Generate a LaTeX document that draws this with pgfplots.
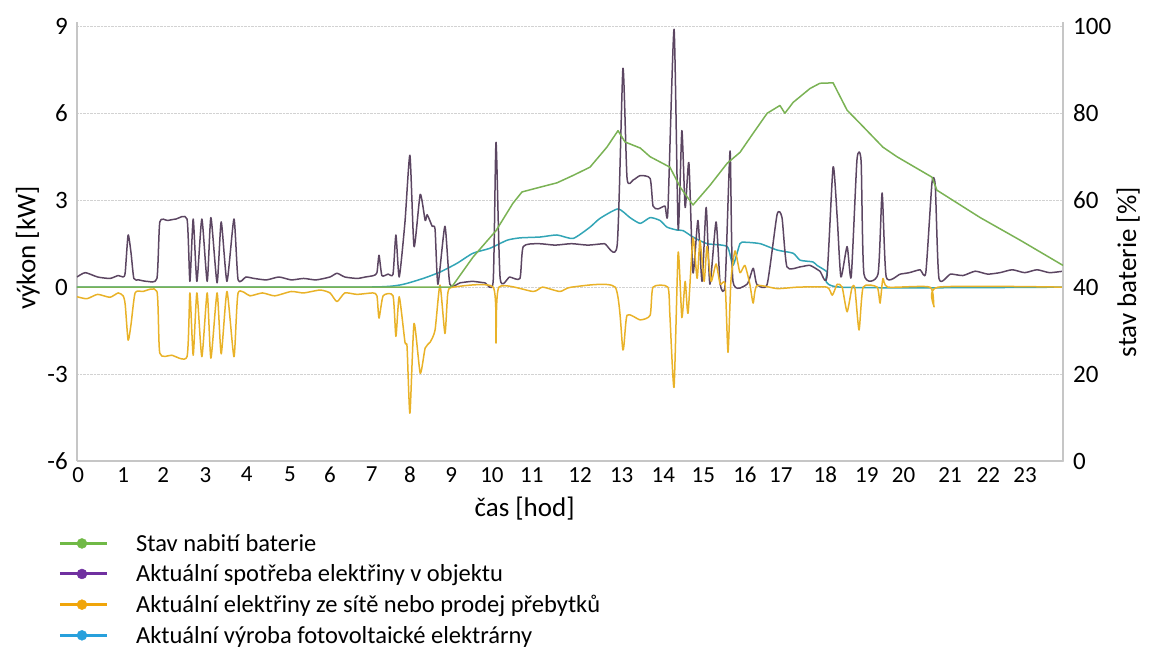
\documentclass[border=0pt]{standalone}
\usepackage{fontspec}
\setmainfont{Carlito}
\usepackage{pgfplots}
\usepackage{pgfplotstable}
\pgfplotsset{compat=1.18}

\definecolor{cBat}{RGB}{122,178,84}
\definecolor{cSpot}{RGB}{92,70,98}
\definecolor{cSit}{RGB}{233,178,40}
\definecolor{cFve}{RGB}{50,165,182}
\definecolor{lBat}{RGB}{112,185,70}
\definecolor{lSpot}{RGB}{112,48,160}
\definecolor{lSit}{RGB}{240,165,10}
\definecolor{lFve}{RGB}{40,160,220}

% spotreba [kW]
\pgfplotstableread{
h v
0 0.35
0.2 0.5
0.5 0.35
0.8 0.3
1.0 0.4
1.12 0.35
1.17 0.5
1.24 1.8
1.31 1.2
1.38 0.3
1.5 0.25
1.7 0.2
1.94 0.3
2.01 2.25
2.2 2.3
2.4 2.35
2.67 2.35
2.74 0.2
2.82 2.35
2.91 0.2
3.03 2.35
3.16 0.2
3.25 2.4
3.40 0.15
3.50 2.25
3.64 0.2
3.81 2.35
3.91 0.25
4.1 0.35
4.3 0.3
4.6 0.25
4.9 0.35
5.2 0.25
5.5 0.3
5.8 0.25
6.14 0.35
6.31 0.48
6.5 0.35
6.8 0.3
7.0 0.35
7.2 0.4
7.28 0.5
7.33 1.1
7.4 0.4
7.55 0.45
7.67 0.45
7.74 1.8
7.82 0.35
7.96 2.25
8.08 4.55
8.18 1.4
8.33 3.2
8.45 2.3
8.50 2.5
8.62 2.1
8.69 2.0
8.76 0.1
8.93 2.1
9.05 0.1
9.3 0.15
9.6 0.2
9.9 0.15
10.10 0.2
10.17 5.0
10.27 0.3
10.5 0.35
10.75 0.3
10.83 1.4
11.2 1.5
11.6 1.45
12.0 1.5
12.4 1.45
12.8 1.5
13.11 1.45
13.25 7.55
13.35 3.75
13.50 3.7
13.67 3.85
13.91 3.75
13.98 2.8
14.10 2.7
14.27 2.8
14.34 2.6
14.49 8.9
14.59 2.0
14.68 5.4
14.76 2.75
14.85 4.3
14.95 0.5
15.07 2.3
15.17 0.2
15.27 2.75
15.36 0.1
15.51 2.25
15.61 0.1
15.73 0.1
15.85 4.7
15.92 0.2
16.26 0.1
16.41 0.65
16.50 0.1
16.75 0.1
16.99 2.5
17.11 2.4
17.23 0.7
17.55 0.7
17.79 0.75
18.03 0.55
18.20 0.35
18.35 4.15
18.45 2.4
18.54 0.35
18.69 1.4
18.79 0.35
18.93 4.4
19.03 4.35
19.10 0.45
19.44 0.45
19.54 3.25
19.64 0.35
19.98 0.45
20.2 0.5
20.46 0.6
20.6 0.5
20.75 3.6
20.83 3.5
20.92 0.3
21.2 0.45
21.5 0.4
21.8 0.55
22.1 0.45
22.4 0.5
22.7 0.6
23.0 0.5
23.3 0.6
23.6 0.5
23.93 0.55
}\spotreba

% sit [kW]
\pgfplotstableread{
h v
0 -0.33
0.24 -0.4
0.5 -0.25
0.8 -0.35
1.0 -0.2
1.12 -0.3
1.17 -0.6
1.24 -1.83
1.31 -1.3
1.41 -0.2
1.6 -0.15
1.94 -0.15
2.01 -2.28
2.3 -2.35
2.67 -2.4
2.74 -0.2
2.82 -2.35
2.91 -0.2
3.03 -2.4
3.16 -0.2
3.25 -2.45
3.40 -0.2
3.50 -2.3
3.64 -0.15
3.81 -2.4
3.91 -0.2
4.2 -0.3
4.5 -0.2
4.8 -0.3
5.2 -0.15
5.5 -0.2
5.9 -0.1
6.14 -0.2
6.31 -0.5
6.5 -0.2
6.8 -0.25
7.18 -0.2
7.28 -0.3
7.33 -1.07
7.43 -0.3
7.67 -0.3
7.74 -1.7
7.82 -0.33
7.96 -1.9
8.01 -2.05
8.08 -4.35
8.18 -1.25
8.33 -2.97
8.45 -2.1
8.57 -1.9
8.69 -1.48
8.81 0.07
8.93 -1.6
9.0 -0.2
9.13 0
10.10 0
10.17 -1.93
10.24 0
11.07 -0.15
11.3 0
11.72 -0.15
12.0 0
13.06 0
13.25 -2.17
13.35 -0.97
13.67 -1.13
13.91 -0.97
13.98 0
14.34 0
14.39 -1.0
14.49 -3.45
14.59 1.2
14.68 -1.05
14.76 0.2
14.83 -0.9
14.95 1.7
15.05 0.3
15.12 1.6
15.22 0.2
15.29 1.4
15.39 0.2
15.51 0.8
15.61 0.1
15.73 0.1
15.80 -2.25
15.87 0.2
15.97 1.25
16.09 0.5
16.21 0.75
16.33 0.1
16.41 -0.55
16.50 0.05
17.0 -0.05
17.5 0
18.20 0
18.33 -0.28
18.45 0.1
18.57 0
18.69 -0.85
18.81 0
18.88 -0.05
18.98 -1.48
19.08 0
19.42 0
19.49 -0.55
19.56 0.3
19.68 0
20.70 0
20.80 -0.68
20.90 0
23.93 0
}\sit

% fotovoltaika [kW]
\pgfplotstableread{
h v
0 0
6.87 0
7.82 0.07
8.40 0.3
8.81 0.52
9.22 0.82
9.61 1.17
10.02 1.34
10.44 1.62
10.75 1.7
11.24 1.73
11.65 1.8
12.04 1.68
12.45 2.07
12.69 2.37
13.13 2.7
13.42 2.4
13.67 2.2
13.91 2.4
14.15 2.3
14.32 2.07
14.56 1.97
14.71 1.95
14.95 1.73
15.29 1.5
15.78 1.4
15.92 0.75
16.09 1.5
16.21 1.55
16.58 1.5
16.99 1.28
17.38 1.17
17.55 0.93
17.86 0.87
17.96 0.75
18.20 0.53
18.52 0.0
23.93 0
}\fve

% baterie [%]
\pgfplotstableread{
h v
0 40
9.05 40
9.13 40.5
9.61 46.9
10.17 53
10.58 59.3
10.80 61.9
11.24 63
11.65 64
12.04 65.7
12.45 67.6
12.86 72.2
13.13 76
13.30 73.4
13.67 72
13.91 70
14.39 67.6
14.64 63
14.95 58.9
15.36 63.4
15.78 68.5
16.09 71
16.41 75.4
16.75 80
17.06 81.8
17.18 80
17.38 82.5
17.79 85.7
18.03 86.9
18.35 87
18.69 80.7
19.00 77.7
19.56 72.2
19.90 70
20.75 65.3
20.87 62.3
21.92 56
22.89 50.8
23.93 45
}\baterie

\pgfplotsset{
  common/.style={
    at={(0pt,0pt)}, anchor=south west,
    scale only axis, width=986pt, height=439pt,
    xmin=0, xmax=23.93,
    major tick length=0pt,
    axis line style={gray!45, line width=1.5pt},
    /pgf/number format/assume math mode=true,
  },
}

\begin{document}
\begin{tikzpicture}
\useasboundingbox (-77pt,-189pt) rectangle (1076pt,461pt);
\begin{axis}[common,
  ymin=-6, ymax=9.15,
  axis x line*=bottom, axis y line*=left,
  ytick={-6,-3,0,3,6,9},
  ymajorgrids, grid style={gray!35, densely dotted, line width=0.8pt},
  xtick={0.03,1.12,2.09,3.12,4.12,5.17,6.14,7.15,8.08,9.08,10.07,11.04,12.21,13.22,14.23,15.2,16.21,17.08,18.16,19.17,20.06,21.19,22.12,23.01},
  xticklabels={0,1,2,3,4,5,6,7,8,9,10,11,12,13,14,15,16,17,18,19,20,21,22,23},
  xticklabel style={font=\fontsize{23}{23}\selectfont, anchor=north, inner sep=0pt, yshift=-6pt},
  yticklabel style={font=\fontsize{25}{25}\selectfont, anchor=east, inner sep=0pt, xshift=-9pt},
  xlabel={čas [hod]},
  xlabel style={font=\fontsize{27}{27}\selectfont, at={(axis description cs:0.454,-0.108)}, anchor=center},
  ylabel={výkon [kW]},
  ylabel style={font=\fontsize{27}{27}\selectfont, at={(axis description cs:-0.05,0.485)}, anchor=center},
  every axis plot/.append style={line width=1.5pt, line join=round, smooth, tension=0.35},
]
\addplot[cFve] table[x=h, y=v] {\fve};
\addplot[cSpot] table[x=h, y=v] {\spotreba};
\addplot[cSit] table[x=h, y=v] {\sit};
\end{axis}
\begin{axis}[common,
  ymin=0, ymax=101,
  hide x axis, axis y line*=right,
  ytick={0,20,40,60,80,100},
  yticklabel style={font=\fontsize{25}{25}\selectfont, anchor=west, inner sep=0pt, xshift=10pt},
  ylabel={stav baterie [\%]},
  ylabel style={font=\fontsize{27}{27}\selectfont, at={(axis description cs:1.066,0.43)}, anchor=center},
  legend style={at={(axis description cs:-0.019,-0.164)}, anchor=north west, draw=none, fill=none,
    font=\fontsize{24.5}{24.5}\selectfont, inner sep=0pt, row sep=10pt,
    nodes={inner sep=1pt}},
  legend cell align=left,
  legend image code/.code={
    \draw[#1, line width=3pt] (0pt,0pt) -- (47pt,0pt);
    \fill[#1] (22pt,0pt) circle (5pt);
    \path (75pt,0pt);
  },
]
\addplot[cBat, line width=1.5pt, line join=round, forget plot] table[x=h, y=v] {\baterie};
\addlegendimage{lBat}
\addlegendentry{Stav nabití baterie}
\addlegendimage{lSpot}
\addlegendentry{Aktuální spotřeba elektřiny v objektu}
\addlegendimage{lSit}
\addlegendentry{Aktuální elektřiny ze sítě nebo prodej přebytků}
\addlegendimage{lFve}
\addlegendentry{Aktuální výroba fotovoltaické elektrárny}
\end{axis}
\end{tikzpicture}
\end{document}
